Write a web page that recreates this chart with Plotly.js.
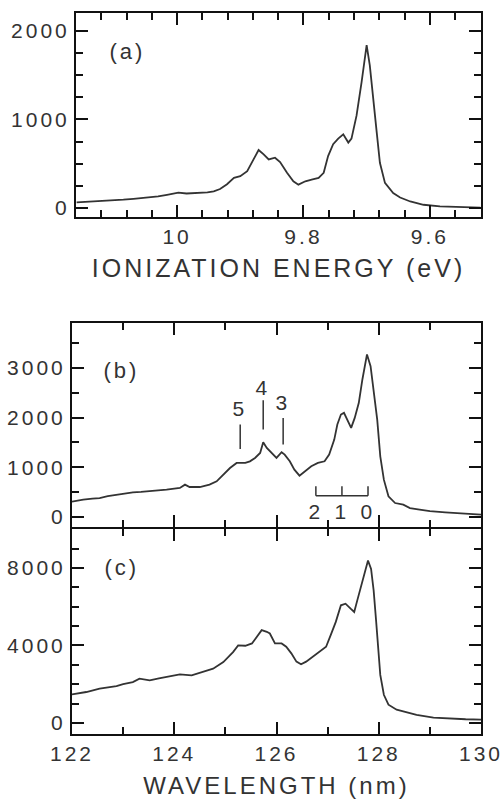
<!DOCTYPE html>
<html>
<head>
<meta charset="utf-8">
<script src="https://cdn.plot.ly/plotly-3.0.1.min.js"></script>
<style>
  html, body { margin: 0; padding: 0; background: #fff; }
  body { position: relative; width: 504px; height: 807px; overflow: hidden; }
  .panel { position: absolute; left: 0; width: 504px; }
  #panelA { top: 0; height: 300px; }
  #panelB { top: 300px; height: 240px; }
  #panelC { top: 500px; height: 307px; }
  .panel svg text { letter-spacing: 3px; }
  .panel path.ticks { display: inline !important; visibility: visible !important; opacity: 1 !important; }
</style>
</head>
<body>
<div id="panelA" class="panel"></div>
<div id="panelB" class="panel"></div>
<div id="panelC" class="panel"></div>
<script>
// Panel (a): intensity vs ionization energy
const energy = [10.159, 10.14, 10.122, 10.10, 10.085, 10.069, 10.055, 10.043, 10.03, 10.016,
  10.005, 9.998, 9.985, 9.975, 9.964, 9.952, 9.942, 9.932, 9.921, 9.910,
  9.900, 9.889, 9.879, 9.871, 9.863, 9.855, 9.845, 9.837, 9.826, 9.816,
  9.808, 9.797, 9.787, 9.776, 9.768, 9.761, 9.753, 9.745, 9.737, 9.729,
  9.724, 9.716, 9.708, 9.700, 9.695, 9.689, 9.684, 9.679, 9.671, 9.658,
  9.647, 9.631, 9.610, 9.584, 9.552, 9.52];
const intensityA = [64, 70, 79, 90, 95, 105, 112, 120, 132, 150,
  170, 175, 165, 168, 172, 178, 190, 215, 270, 341,
  360, 417, 549, 655, 606, 549, 568, 519, 398, 303,
  265, 303, 322, 341, 398, 587, 720, 784, 833, 739,
  784, 1042, 1420, 1837, 1610, 1231, 852, 511, 284, 170,
  120, 75, 38, 19, 11, 5];

// Panel (b): intensity vs wavelength
const wavelengthB = [122.0, 122.1, 122.22, 122.4, 122.54, 122.7, 122.87, 123.0, 123.19, 123.35,
  123.52, 123.7, 123.85, 124.0, 124.11, 124.21, 124.30, 124.5, 124.69, 124.83,
  124.96, 125.09, 125.22, 125.30, 125.39, 125.48, 125.58, 125.68, 125.74, 125.81,
  125.90, 126.00, 126.10, 126.16, 126.26, 126.35, 126.45, 126.55, 126.68, 126.81,
  126.94, 127.03, 127.13, 127.19, 127.26, 127.32, 127.40, 127.46, 127.53, 127.61,
  127.68, 127.77, 127.84, 127.90, 127.97, 128.03, 128.10, 128.19, 128.32, 128.48,
  128.61, 128.8, 129.0, 129.3, 129.6, 129.8, 130.0];
const intensityB = [310, 330, 349, 370, 382, 420, 450, 470, 497, 505,
  517, 535, 550, 570, 584, 651, 604, 604, 651, 718,
  852, 986, 1087, 1087, 1087, 1120, 1188, 1288, 1503, 1389,
  1288, 1188, 1302, 1255, 1120, 953, 832, 919, 1020, 1087,
  1120, 1255, 1557, 1859, 2060, 2094, 1926, 1792, 1993, 2295,
  2765, 3268, 3033, 2563, 1959, 1221, 752, 416, 282, 248,
  181, 150, 120, 95, 70, 60, 50];

// Panel (c): intensity vs wavelength
const wavelengthC = [122.0, 122.28, 122.54, 122.87, 123.0, 123.19, 123.32, 123.52, 123.7, 123.85,
  124.11, 124.34, 124.50, 124.76, 124.96, 125.15, 125.25, 125.39, 125.52, 125.61,
  125.71, 125.81, 125.87, 125.97, 126.10, 126.19, 126.29, 126.39, 126.48, 126.58,
  126.71, 126.84, 126.97, 127.06, 127.16, 127.26, 127.35, 127.45, 127.52, 127.58,
  127.68, 127.74, 127.79, 127.85, 127.90, 127.95, 127.99, 128.03, 128.10, 128.19,
  128.35, 128.61, 128.74, 129.07, 129.4, 129.7, 130.0];
const intensityC = [1470, 1597, 1768, 1906, 2000, 2112, 2284, 2198, 2300, 2369,
  2507, 2455, 2576, 2799, 3142, 3657, 4000, 3984, 4104, 4446,
  4788, 4703, 4617, 4104, 4104, 3933, 3591, 3164, 3027, 3164,
  3420, 3642, 3933, 4532, 5216, 6071, 6156, 5900, 5729, 6327,
  7268, 7952, 8379, 7952, 6840, 5216, 4019, 2480, 1454, 941,
  684, 513, 420, 275, 215, 190, 172];

// Vibrational progression markers in panel (b)
const bandLabels = ['5', '4', '3'];
const bandPos = [125.29, 125.74, 126.13];
const bandLineLow = [1369, 1758, 1456];
const bandLineHigh = [1859, 2349, 1993];
const bandLabelY = [2174, 2597, 2295];

const bracketLabels = ['2', '1', '0'];
const bracketPos = [126.77, 127.28, 127.79];
const bracketLevel = 429;
const bracketTickTop = 617;
const bracketLabelY = 114;

const panelLabels = ['(a)', '(b)', '(c)'];

const INK = '#333';
const FRAME = '#111';
const FONT = 'Liberation Sans, Arial, Helvetica, sans-serif';
const lineStyle = { color: INK, width: 1.8 };

function minorTicks(d) {
  return { dtick: d, ticks: 'inside', ticklen: 7, tickcolor: FRAME, tickwidth: 2, showgrid: false };
}
function axisBase(extra) {
  return Object.assign({
    showline: true, mirror: 'ticks', linecolor: FRAME, linewidth: 2,
    ticks: 'inside', ticklen: 12, tickwidth: 2, tickcolor: FRAME,
    showgrid: false, zeroline: false,
    tickfont: { family: FONT, size: 21, color: '#333' }
  }, extra);
}
function panelLabel(t, x, y) {
  return { xref: 'paper', yref: 'paper', x: x, y: y, xanchor: 'center', yanchor: 'middle',
    text: t, showarrow: false, font: { family: FONT, size: 22, color: '#333' } };
}
const cfg = { displayModeBar: false };

// ---- Panel (a)
Plotly.newPlot('panelA', [
  { x: energy, y: intensityA, mode: 'lines', line: lineStyle }
], {
  width: 504, height: 300,
  margin: { l: 76, r: 23, t: 13, b: 83 },
  paper_bgcolor: 'rgba(0,0,0,0)', plot_bgcolor: 'rgba(0,0,0,0)',
  showlegend: false,
  font: { family: FONT, color: '#333' },
  xaxis: axisBase({ range: [10.16, 9.519], tick0: 0, dtick: 0.2, minor: minorTicks(0.04),
    title: { text: 'IONIZATION ENERGY (eV)', font: { family: FONT, size: 25, color: '#333' }, standoff: 12 } }),
  yaxis: axisBase({ range: [-100, 2200], tick0: 0, dtick: 1000, tickformat: 'd', minor: minorTicks(250) }),
  annotations: [panelLabel(panelLabels[0], 0.126, 0.809)]
}, cfg);

// ---- Panel (b)
const shapesB = [];
bandPos.forEach((p, i) => {
  shapesB.push({ type: 'line', xref: 'x', yref: 'y', x0: p, x1: p,
    y0: bandLineLow[i], y1: bandLineHigh[i], line: { color: INK, width: 1.5 } });
});
shapesB.push({ type: 'line', xref: 'x', yref: 'y',
  x0: bracketPos[0], x1: bracketPos[bracketPos.length - 1],
  y0: bracketLevel, y1: bracketLevel, line: { color: INK, width: 1.5 } });
bracketPos.forEach(p => {
  shapesB.push({ type: 'line', xref: 'x', yref: 'y', x0: p, x1: p,
    y0: bracketLevel, y1: bracketTickTop, line: { color: INK, width: 1.5 } });
});
const annB = [panelLabel(panelLabels[1], 0.122, 0.765)];
bandPos.forEach((p, i) => {
  annB.push({ xref: 'x', yref: 'y', x: p, y: bandLabelY[i], text: bandLabels[i],
    xanchor: 'center', yanchor: 'middle', showarrow: false,
    font: { family: FONT, size: 21, color: '#333' } });
});
bracketPos.forEach((p, i) => {
  annB.push({ xref: 'x', yref: 'y', x: p, y: bracketLabelY, text: bracketLabels[i],
    xanchor: 'center', yanchor: 'middle', showarrow: false,
    font: { family: FONT, size: 21, color: '#333' } });
});
Plotly.newPlot('panelB', [
  { x: wavelengthB, y: intensityB, mode: 'lines', line: lineStyle }
], {
  width: 504, height: 240,
  margin: { l: 72, r: 23, t: 23, b: 13 },
  paper_bgcolor: 'rgba(0,0,0,0)', plot_bgcolor: 'rgba(0,0,0,0)',
  showlegend: false,
  font: { family: FONT, color: '#333' },
  xaxis: axisBase({ range: [122, 130], tick0: 0, dtick: 2, showticklabels: false, minor: minorTicks(1) }),
  yaxis: axisBase({ range: [-200, 3900], tick0: 0, dtick: 1000, tickformat: 'd', minor: minorTicks(500) }),
  shapes: shapesB,
  annotations: annB
}, cfg);

// ---- Panel (c)
Plotly.newPlot('panelC', [
  { x: wavelengthC, y: intensityC, mode: 'lines', line: lineStyle }
], {
  width: 504, height: 307,
  margin: { l: 72, r: 23, t: 29, b: 73 },
  paper_bgcolor: 'rgba(0,0,0,0)', plot_bgcolor: 'rgba(0,0,0,0)',
  showlegend: false,
  font: { family: FONT, color: '#333' },
  xaxis: axisBase({ range: [122, 130], tick0: 0, dtick: 2, minor: minorTicks(1),
    title: { text: 'WAVELENGTH (nm)', font: { family: FONT, size: 24, color: '#333' }, standoff: 13 } }),
  yaxis: axisBase({ range: [-570, 10010], tick0: 0, dtick: 4000, tickformat: 'd', minor: minorTicks(1000) }),
  annotations: [panelLabel(panelLabels[2], 0.122, 0.810)]
}, cfg);
</script>
</body>
</html>
